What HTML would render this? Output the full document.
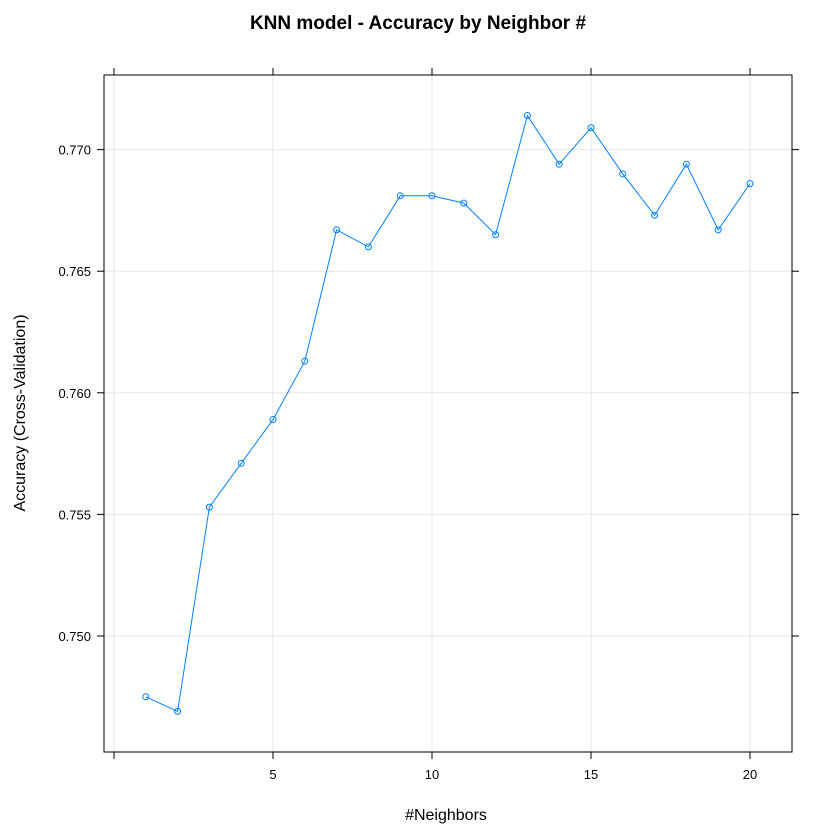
<!DOCTYPE html>
<html><head><meta charset="utf-8"><style>
body{margin:0;background:#fff;}
svg{display:block;font-family:"Liberation Sans",Arial,sans-serif;}
</style></head><body>
<svg id="chart" width="840" height="840">
<text x="418" y="29" text-anchor="middle" font-size="19" font-weight="bold">KNN model - Accuracy by Neighbor #</text>
<text x="446" y="820" text-anchor="middle" font-size="16">#Neighbors</text>
<text transform="translate(25,413) rotate(-90)" text-anchor="middle" font-size="16">Accuracy (Cross-Validation)</text>
<g id="grid"></g>
<rect x="104" y="75" width="688" height="677" fill="none" stroke="#000" stroke-width="1"/>
<g id="axes"></g>
<g id="series"></g>
</svg>
<script>
const neighbors=[1,2,3,4,5,6,7,8,9,10,11,12,13,14,15,16,17,18,19,20];
const accuracy=[0.7475,0.7469,0.7553,0.7571,0.7589,0.7613,0.7667,0.7660,0.7681,0.7681,0.7678,0.7665,0.7714,0.7694,0.7709,0.7690,0.7673,0.7694,0.7667,0.7686];
const xTicks=[5,10,15,20];
const yTicks=[0.750,0.755,0.760,0.765,0.770];
const yTickLabels=["0.750","0.755","0.760","0.765","0.770"];

const NS="http://www.w3.org/2000/svg";
function xs(v){return 273+(v-5)*31.8;}
function ys(v){return 636-(v-0.750)*24320;}
function mk(tag,attrs,parent){const e=document.createElementNS(NS,tag);for(const k in attrs)e.setAttribute(k,attrs[k]);parent.appendChild(e);return e;}
const grid=document.getElementById('grid'),axes=document.getElementById('axes'),series=document.getElementById('series');
const xAll=[0].concat(xTicks);
xAll.forEach(t=>{
  const x=xs(t);
  const g=mk('line',{x1:x,x2:x,y1:75,y2:752,stroke:'#e6e6e6'},grid);
  
  
  [[752,759],[68,75]].forEach(([a,b])=>{
    const l=mk('line',{x1:x,x2:x,y1:a,y2:b,stroke:'#000'},axes);
    
    
  });
  if(t>0){
    const tx=mk('text',{x:x,y:779,'text-anchor':'middle','font-size':13},axes);
    tx.textContent=t;
    
    
  }
});
yTicks.forEach((t,i)=>{
  const y=ys(t);
  const g=mk('line',{x1:104,x2:792,y1:y,y2:y,stroke:'#e6e6e6'},grid);
  
  
  [[97,104],[792,799]].forEach(([a,b])=>{
    const l=mk('line',{x1:a,x2:b,y1:y,y2:y,stroke:'#000'},axes);
    
    
  });
  const tx=mk('text',{x:91,y:y+5,'text-anchor':'end','font-size':13},axes);
  tx.textContent=yTickLabels[i];
  
  
});
const pts=neighbors.map((n,i)=>xs(n)+','+ys(accuracy[i])).join(' ');
const line=mk('polyline',{points:pts,fill:'none',stroke:'#0080ff','stroke-width':1},series);


neighbors.forEach((n,i)=>{
  const c=mk('circle',{cx:xs(n),cy:ys(accuracy[i]),r:3,fill:'none',stroke:'#0080ff','stroke-width':1},series);
  
  
});
</script>
</body></html>
